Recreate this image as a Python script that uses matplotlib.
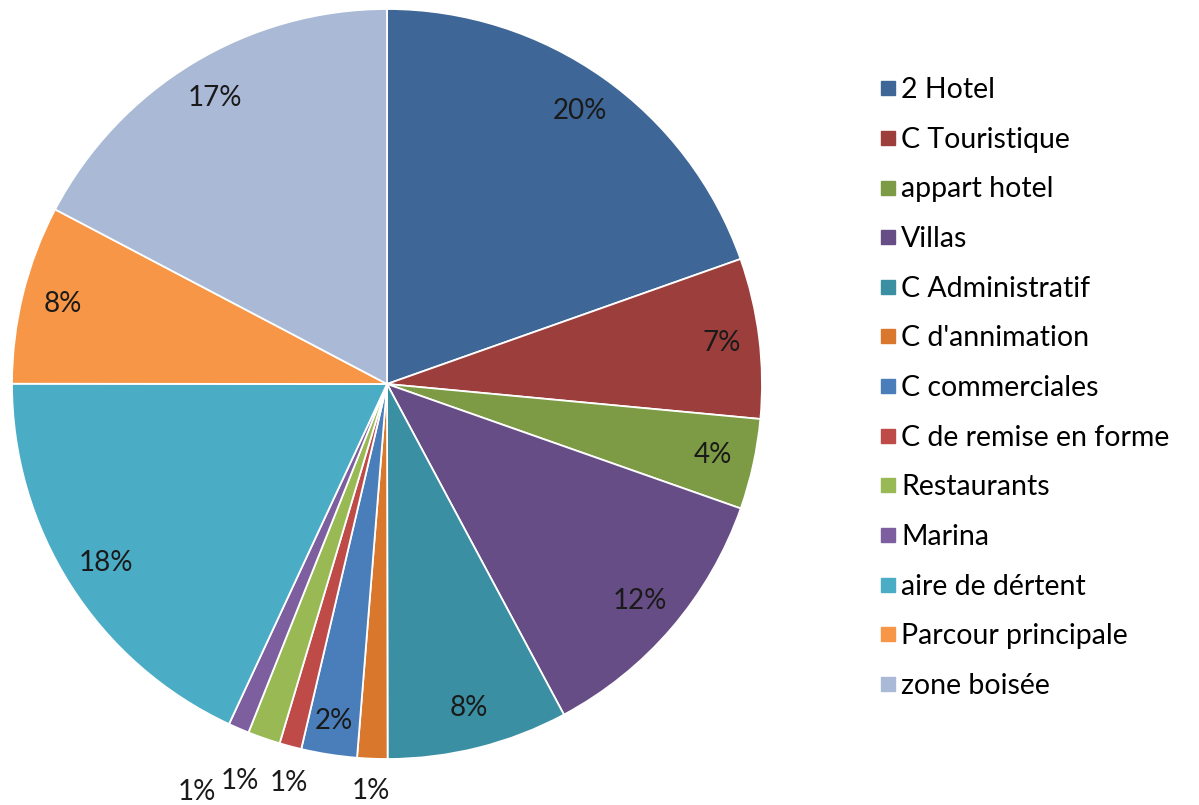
import numpy as np
import matplotlib
matplotlib.use("Agg")
import matplotlib.pyplot as plt
from matplotlib.lines import Line2D

plt.rcParams["font.family"] = ["Lato", "DejaVu Sans"]

# données (parts en %)
categories = ["2 Hotel", "C Touristique", "appart hotel", "Villas", "C Administratif",
              "C d'annimation", "C commerciales", "C de remise en forme", "Restaurants",
              "Marina", "aire de dértent", "Parcour principale", "zone boisée"]
shares = [19.6, 6.9, 3.9, 11.8, 7.8, 1.3, 2.4, 0.95, 1.4, 0.9, 18.1, 7.7, 17.3]
colors = ["#3E6696", "#9C3E3B", "#7D9B45", "#674D86", "#3A8FA3", "#D9772C", "#4A7EBB",
          "#BE4B48", "#98B954", "#7D5FA0", "#4BACC6", "#F79646", "#A9B9D6"]
# distance des étiquettes (en rayon) ; les petites parts sont écrites dehors
label_dist = [0.89, 0.9, 0.89, 0.89, 0.89, 1.085, 0.91, 1.1, 1.12, 1.185, 0.89, 0.89, 0.89]
# petit décalage horizontal (points) pour éviter le chevauchement en bas
label_dx = [0, 0, 0, 0, 0, 0, 0, 6, -7, -10, 0, 0, 0]

fig = plt.figure(figsize=(11.99, 8.05), dpi=100)
R = 375
ax = fig.add_axes([(387 - R) / 1199, (805 - 384 - R) / 805, 2 * R / 1199, 2 * R / 805])

wedges, _ = ax.pie(shares, colors=colors, startangle=90, counterclock=False,
                   radius=1, wedgeprops=dict(edgecolor="white", linewidth=1.3))
ax.set_xlim(-1, 1)
ax.set_ylim(-1, 1)

for w, s, d, dx in zip(wedges, shares, label_dist, label_dx):
    ang = np.deg2rad((w.theta1 + w.theta2) / 2)
    ax.annotate(f"{s:.0f}%", (d * np.cos(ang), d * np.sin(ang)), xytext=(dx, 0),
                textcoords="offset points", ha="center", va="center",
                fontsize=20, color="#1a1a1a", annotation_clip=False)

handles = [Line2D([], [], marker="s", linestyle="none", markersize=10,
                  markerfacecolor=c, markeredgecolor=c) for c in colors]
fig.legend(handles, categories, loc="upper left", bbox_to_anchor=(864 / 1199, 1 - 63 / 805),
           frameon=False, fontsize=20.5, handletextpad=0.1, handlelength=0.7,
           labelspacing=0.83, borderpad=0)

fig.savefig("out.png", dpi=100)
